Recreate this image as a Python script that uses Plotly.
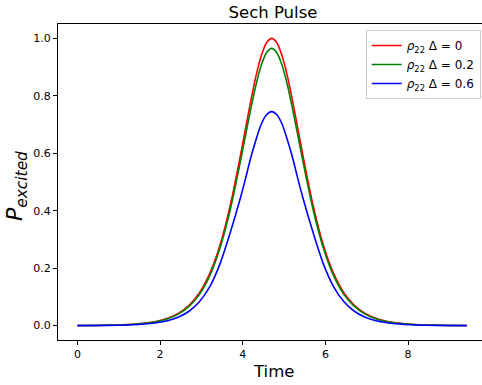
import plotly.graph_objects as go

# Time samples
time = [0.0, 0.70, 1.20, 1.70, 1.95, 2.20, 2.45, 2.70, 2.95, 3.20, 3.45, 3.70, 3.95, 4.075, 4.20, 4.325,
        4.45, 4.575, 4.70, 4.825, 4.95, 5.075, 5.20, 5.325, 5.45, 5.70, 5.95, 6.20, 6.45, 6.70,
        6.95, 7.20, 7.45, 7.70, 8.20, 8.70, 9.42]

rho_d0 = [0.0003, 0.0013, 0.0036, 0.0099, 0.0162, 0.0266, 0.0435, 0.0707, 0.114, 0.181, 0.280, 0.420,
          0.597, 0.692, 0.786, 0.872, 0.940, 0.985, 1.000, 0.985, 0.940, 0.872, 0.786, 0.692,
          0.597, 0.420, 0.280, 0.181, 0.114, 0.0707, 0.0435, 0.0266, 0.0162, 0.0099, 0.0036,
          0.0013, 0.0003]

rho_d02 = [0.0003, 0.0012, 0.0033, 0.0090, 0.0150, 0.0250, 0.0410, 0.0670, 0.108, 0.173, 0.270, 0.405,
           0.576, 0.668, 0.758, 0.841, 0.907, 0.950, 0.965, 0.950, 0.907, 0.841, 0.758, 0.668,
           0.576, 0.405, 0.270, 0.173, 0.108, 0.0670, 0.0410, 0.0250, 0.0150, 0.0090, 0.0033,
           0.0012, 0.0003]

rho_d06 = [0.0002, 0.0008, 0.0023, 0.0065, 0.0110, 0.0180, 0.0300, 0.0500, 0.083, 0.135, 0.215, 0.325,
           0.448, 0.516, 0.588, 0.649, 0.702, 0.734, 0.745, 0.734, 0.702, 0.649, 0.588, 0.516,
           0.448, 0.325, 0.215, 0.135, 0.083, 0.0500, 0.0300, 0.0180, 0.0110, 0.0065, 0.0023,
           0.0008, 0.0002]

series_names = ["<i>ρ</i><sub>22</sub> Δ = 0", "<i>ρ</i><sub>22</sub> Δ = 0.2", "<i>ρ</i><sub>22</sub> Δ = 0.6"]
series_colors = ["#ff0000", "#008000", "#0000ff"]

x_ticks = [0, 2, 4, 6, 8]
y_ticks = [0.0, 0.2, 0.4, 0.6, 0.8, 1.0]

W, H = 482, 385
L, T, B = 58, 24, 45
plot_w = W - L
plot_h = H - T - B

fig = go.Figure()
for ys, name, col in zip([rho_d0, rho_d02, rho_d06], series_names, series_colors):
    fig.add_trace(go.Scatter(x=time, y=ys, mode="lines", name=name,
                             line=dict(color=col, width=1.6, shape="spline", smoothing=0.8)))

font_family = "DejaVu Sans"

fig.update_layout(
    width=W, height=H,
    margin=dict(l=L, r=0, t=T, b=B),
    paper_bgcolor="white", plot_bgcolor="white",
    font=dict(family=font_family, color="black", size=11),
    title=dict(text="Sech Pulse", x=273 / W, xref="container", xanchor="center",
               y=1 - 12 / H, yref="container", yanchor="middle",
               font=dict(size=16.5, family=font_family, color="black")),
    showlegend=True,
    legend=dict(x=0.997, y=0.981, xanchor="right", yanchor="top",
                bgcolor="white", bordercolor="#cccccc", borderwidth=1,
                font=dict(size=12, family=font_family, color="black"),
                itemwidth=30, tracegroupgap=0),
    xaxis=dict(range=[-0.47, -0.47 + plot_w / 41.33], tickvals=x_ticks,
               ticktext=[str(v) for v in x_ticks],
               showgrid=False, zeroline=False, showline=True, linecolor="black", linewidth=1,
               mirror=True, ticks="outside", ticklen=4, tickwidth=1, tickcolor="black",
               tickfont=dict(size=11, family=font_family, color="black")),
    yaxis=dict(range=[-0.05, 1.05], tickvals=y_ticks,
               ticktext=[f"{v:.1f}" for v in y_ticks],
               showgrid=False, zeroline=False, showline=True, linecolor="black", linewidth=1,
               ticks="outside", ticklen=4, tickwidth=1, tickcolor="black",
               tickfont=dict(size=11, family=font_family, color="black")),
    annotations=[
        dict(text="Time", xref="paper", yref="paper", x=(273 - L) / plot_w, y=-(371 - (H - B)) / plot_h,
             xanchor="center", yanchor="middle", showarrow=False,
             font=dict(size=16.5, family=font_family, color="black")),
        dict(text="<i>P<sub>excited</sub></i>", xref="paper", yref="paper",
             x=(16 - L) / plot_w, y=((H - B) - 186) / plot_h, textangle=-90,
             xanchor="center", yanchor="middle", showarrow=False,
             font=dict(size=22, family=font_family, color="black")),
    ],
)

fig.write_html("out.html", config={"displayModeBar": False},
               post_script="document.body.style.margin='0';document.body.style.overflow='hidden';")
